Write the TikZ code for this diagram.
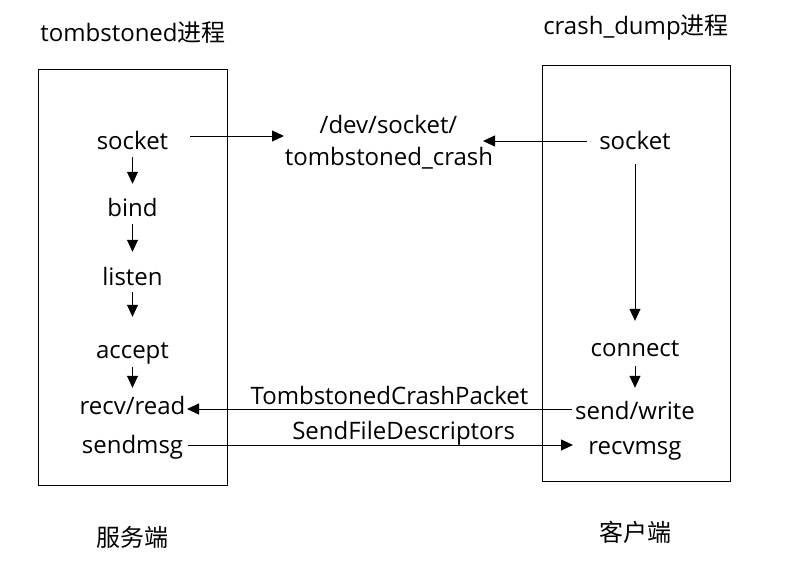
\documentclass[tikz,border=0pt]{standalone}
\usepackage{fontspec}
\setmainfont{Open Sans}
\newfontfamily\cjk{Noto Sans CJK SC}
\usetikzlibrary{arrows.meta}
\tikzset{callnode/.style={
    font=\fontsize{24}{28}\selectfont,
    text height=19pt, text depth=3pt, inner sep=0pt
  },
  flowarrow/.style={-{Triangle[length=12pt,width=11pt]}, line width=0.8pt}
}

\begin{document}
\begin{tikzpicture}[x=1pt,y=-1pt]
      \useasboundingbox (0,0) rectangle (796,569);
      \node[callnode] (stitle) at (133,34) {tombstoned{\cjk 进程}};
      \node[callnode] (ctitle) at (636,27) {crash\_dump{\cjk 进程}};
      \draw[line width=0.8pt] (38,69) rectangle (227,485);
      \draw[line width=0.8pt] (542,65) rectangle (730,481);
      % server side
      \node[callnode] (ssocket) at (132.5,142) {socket};
      \node[callnode] (sbind) at (132.5,209) {bind};
      \node[callnode] (slisten) at (132.5,278) {listen};
      \node[callnode] (saccept) at (132.5,351) {accept};
      \node[callnode] (srecv) at (132.5,407) {recv/read};
      \node[callnode] (ssend) at (132.5,446) {sendmsg};
      \draw[flowarrow, shorten <=4pt, shorten >=14pt] (ssocket) -- (sbind);
      \draw[flowarrow, shorten <=4pt, shorten >=15pt] (sbind) -- (slisten);
      \draw[flowarrow, shorten <=3pt, shorten >=23pt] (slisten) -- (saccept);
      \draw[flowarrow, shorten <=5pt, shorten >=8pt] (saccept) -- (srecv);
      % socket path
      \node[callnode] (pdev) at (388.5,126) {/dev/socket/};
      \node[callnode] (pcrash) at (389,158) {tombstoned\_crash};
      % client side
      \node[callnode] (csocket) at (635,142) {socket};
      \node[callnode] (cconnect) at (635,349) {connect};
      \node[callnode] (cwrite) at (635,412) {send/write};
      \node[callnode] (crecv) at (635,447) {recvmsg};
      \draw[flowarrow, shorten <=11pt, shorten >=17pt] (csocket) -- (cconnect);
      \draw[flowarrow, shorten <=6pt, shorten >=13pt] (cconnect) -- (cwrite);
      % between the two
      \draw[flowarrow] ([xshift=57.5pt,yshift=6pt]ssocket.center) -- ([xshift=-105pt,yshift=22pt]pcrash.center);
      \draw[flowarrow] ([xshift=-48pt,yshift=1pt]csocket.center) -- ([xshift=94pt,yshift=17pt]pcrash.center);
      \draw[flowarrow] ([xshift=-63pt,yshift=3pt]cwrite.center) -- ([xshift=54.5pt,yshift=-2pt]srecv.center)
        node[callnode, pos=0.474, anchor=south, yshift=1pt] (packet) {TombstonedCrashPacket};
      \draw[flowarrow] ([xshift=55.5pt,yshift=1pt]ssend.center) -- ([xshift=-62pt,yshift=2pt]crecv.center)
        node[callnode, pos=0.56, anchor=south, yshift=2pt] (fdesc) {SendFileDescriptors};
      \node[callnode] (server) at (132.5,539) {\cjk 服务端};
      \node[callnode] (client) at (635,533.5) {\cjk 客户端};
    \end{tikzpicture}
\end{document}
